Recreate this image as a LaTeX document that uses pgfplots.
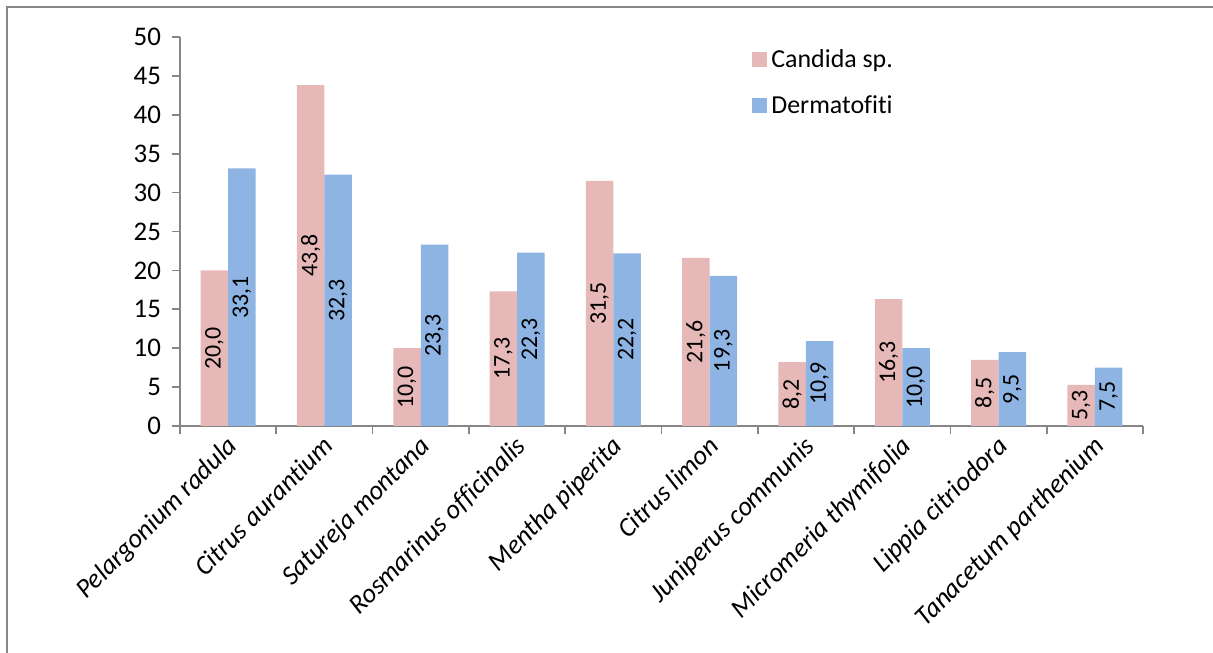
\documentclass[border=0pt]{standalone}
\usepackage{fontspec}
\setmainfont{Carlito}[Ligatures=CommonOff]
\usepackage{pgfplots}
\usepackage{pgfplotstable}
\pgfplotsset{compat=1.18}
\definecolor{candida}{HTML}{E6B9B8}
\definecolor{derma}{HTML}{8EB4E3}
\definecolor{axisgray}{HTML}{868686}
\pgfplotsset{sqlegend/.style={legend image code/.code={\fill[##1] (0bp,-3.75bp) rectangle (7.5bp,3.75bp);}}}
% x: category index, c: Candida sp., d: Dermatofiti
\pgfplotstableread{
x c d
0 20.0 33.1
1 43.8 32.3
2 10.0 23.3
3 17.3 22.3
4 31.5 22.2
5 21.6 19.3
6 8.2 10.9
7 16.3 10.0
8 8.5 9.5
9 5.3 7.5
}\data
\begin{document}
\begin{tikzpicture}
\useasboundingbox (0,0) rectangle (606.5bp,326.5bp);
\draw[axisgray, line width=1bp] (3.5bp,0) -- (3.5bp,322.75bp) -- (606.5bp,322.75bp);
\begin{axis}[
  at={(90bp,113.5bp)}, anchor=south west,
  scale only axis, width=481.5bp, height=194.5bp,
  xmin=-0.5, xmax=9.5, ymin=0, ymax=50,
  axis lines*=left,
  axis line style={axisgray, line width=0.85bp},
  tick style={axisgray, line width=0.85bp},
  tick align=outside,
  major tick length=4bp, minor tick length=4bp,
  ytick={0,5,...,50},
  xtick={0,...,9},
  major x tick style={draw=none},
  minor xtick={-0.5,0.5,...,9.5},
  xticklabels={Pelargonium radula, Citrus aurantium, Satureja montana,
    Rosmarinus officinalis, Mentha piperita, Citrus limon,
    Juniperus communis, Micromeria thymifolia, Lippia citriodora,
    Tanacetum parthenium},
  x tick label style={rotate=45, anchor=north east, inner sep=1bp, yshift=2bp,
    font=\fontsize{13.5}{16}\selectfont\itshape},
  y tick label style={font=\fontsize{13.5}{16}\selectfont, xshift=-2bp},
  /pgf/number format/assume math mode=true,
  legend cell align=left,
  legend style={at={(0.594,1)}, anchor=north west, yshift=-4bp,
    draw=none, fill=none, inner sep=0pt, row sep=8.5bp,
    font=\fontsize{13}{15.5}\selectfont},
]
\addplot[ybar, bar width=13.75bp, bar shift=-6.875bp, fill=candida, draw=none, sqlegend]
  table[x=x, y=c]{\data};
\addlegendentry{Candida sp.}
\addplot[ybar, bar width=13.75bp, bar shift=6.875bp, fill=derma, draw=none, sqlegend]
  table[x=x, y=d]{\data};
\addlegendentry{Dermatofiti}
% value labels, centred in the bars
\addplot[forget plot, only marks, mark=none, point meta=explicit,
  nodes near coords={\pgfmathprintnumber[fixed,fixed zerofill,precision=1,use comma]{\pgfplotspointmeta}},
  every node near coord/.style={rotate=90, anchor=center, text=black, inner sep=0pt,
    font=\fontsize{12}{14}\selectfont}]
  table[x expr=\thisrow{x}-0.1428, y expr=\thisrow{c}/2, meta=c]{\data};
\addplot[forget plot, only marks, mark=none, point meta=explicit,
  nodes near coords={\pgfmathprintnumber[fixed,fixed zerofill,precision=1,use comma]{\pgfplotspointmeta}},
  every node near coord/.style={rotate=90, anchor=center, text=black, inner sep=0pt,
    font=\fontsize{12}{14}\selectfont}]
  table[x expr=\thisrow{x}+0.1428, y expr=\thisrow{d}/2, meta=d]{\data};
\end{axis}
\end{tikzpicture}
\end{document}
